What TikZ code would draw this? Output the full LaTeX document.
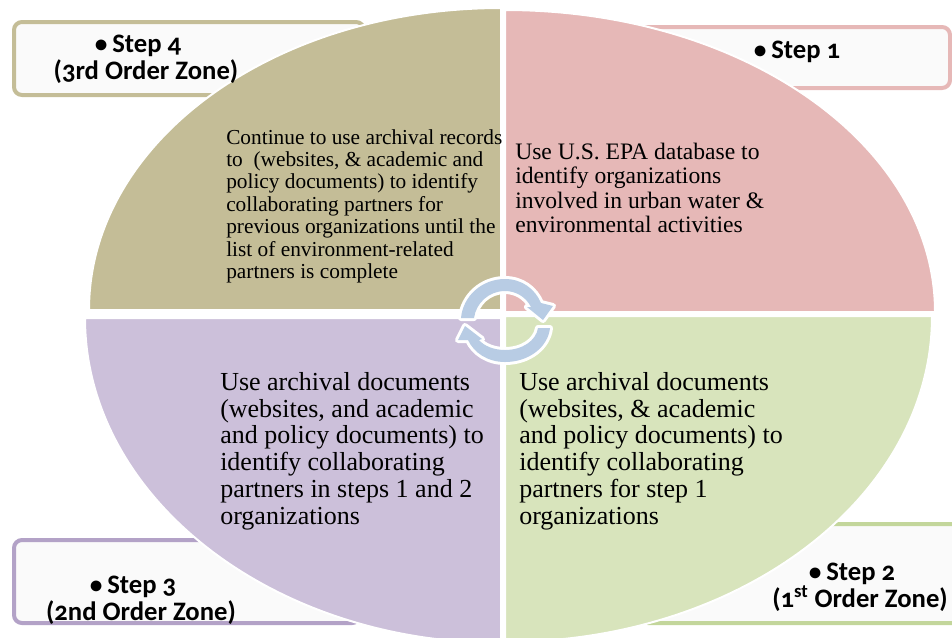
\documentclass[tikz,border=0pt]{standalone}
\usepackage{fontspec}
\setmainfont{Liberation Serif}
\newfontfamily\labelfont[Numbers=OldStyle]{Carlito}
\usepackage{tikz}

\definecolor{tanfill}{HTML}{C4BD97}
\definecolor{pinkfill}{HTML}{E6B8B7}
\definecolor{lilacfill}{HTML}{CCC0DA}
\definecolor{greenfill}{HTML}{D8E4BC}
\definecolor{purpleline}{HTML}{B3A2C7}
\definecolor{greenline}{HTML}{C3D69B}
\definecolor{cyclefill}{HTML}{B8CCE4}

\newcommand{\stepdot}{{\fontsize{19}{19}\selectfont\textbullet}\hspace{0.18em}}

\begin{document}
\begin{tikzpicture}[
    x=0.75pt, y=-0.75pt,
    stepbox/.style={draw, line width=3pt, rounded corners=6pt, fill=black!2},
    quadrant/.style={draw=white, line width=1.5pt},
    cyclearrow/.style={fill=cyclefill, preaction={draw=white, line width=4.5pt, line join=round}},
    steplabel/.style={font=\labelfont\bfseries\fontsize{20}{20.4}\selectfont, align=center, inner sep=0pt},
    bigtext/.style={font=\fontsize{19.5}{20.1}\selectfont, align=left, anchor=north west, inner sep=0pt},
    smalltext/.style={font=\fontsize{16}{16.8}\selectfont, align=left, anchor=north west, inner sep=0pt}
]
    \useasboundingbox (0,0) rectangle (952,637);
    \clip (0,0) rectangle (952,637);

    % Step boxes
    \draw[stepbox, draw=tanfill] (14,22) rectangle (364,95);
    \draw[stepbox, draw=pinkfill] (640,27) rectangle (950,88);
    \draw[stepbox, draw=purpleline] (14,540) rectangle (360,623);
    \draw[stepbox, draw=greenline] (640,524) rectangle (960,623);

    % Quadrants
    \fill[quadrant, fill=tanfill] (501,310) -- (501,8) .. controls (272,8) and (89,143) .. (89,310) -- cycle;
    \fill[quadrant, fill=pinkfill] (505,312) -- (505,10) .. controls (745,10) and (935,146) .. (935,312) -- cycle;
    \fill[quadrant, fill=lilacfill] (501,318) -- (501,643) .. controls (272,643) and (85,497) .. (85,318) -- cycle;
    \fill[quadrant, fill=greenfill] (505,316) -- (505,642) .. controls (742,642) and (932,496) .. (932,316) -- cycle;

    % Cycle arrows
    \path[cyclearrow] (461,318) .. controls (463,296) and (482,279) .. (505,279)
        .. controls (522,279) and (535,289) .. (541,303) -- (553,306) -- (543,320) -- (527,307) -- (531,307)
        .. controls (526,297) and (516,291) .. (505,291)
        .. controls (489,291) and (476,303) .. (474,318) -- cycle;
    \path[cyclearrow] (550,328) .. controls (548,347) and (529,362) .. (505,362)
        .. controls (488,362) and (474,353) .. (468,340) -- (458,340) -- (465,326) -- (482,339) -- (479,340)
        .. controls (484,346) and (494,350) .. (505,350)
        .. controls (522,350) and (536,341) .. (538,328) -- cycle;

    % Step labels
    \node[steplabel] (step4) at (146,59) {\stepdot Step 4\hspace*{12pt}\\(3rd Order Zone)};
    \node[steplabel] (step1) at (797,52) {\stepdot Step 1};
    \node[steplabel] (step3) at (141,600) {\stepdot Step 3\hspace*{12pt}\\(2nd Order Zone)};
    \node[steplabel] (step2) at (860,587) {\stepdot Step 2\hspace*{12pt}\\(1\textsuperscript{st} Order Zone)};

    % Quadrant texts
    \node[smalltext] (text4) at (226,129) {Continue to use archival records\\
        to\ \ (websites, \& academic and\\policy documents) to identify\\collaborating partners for\\
        previous organizations until the\\list of environment-related\\partners is complete};
    \node[smalltext, font=\fontsize{17.7}{18.2}\selectfont] (text1) at (515,143) {Use U.S. EPA database to\\identify organizations\\
        involved in urban water \&\\environmental activities};
    \node[bigtext] (text3) at (220,372) {Use archival documents\\(websites, and academic\\
        and policy documents) to\\identify collaborating\\partners in steps 1 and 2\\organizations};
    \node[bigtext] (text2) at (519,372) {Use archival documents\\(websites, \& academic\\
        and policy documents) to\\identify collaborating\\partners for step 1\\organizations};
\end{tikzpicture}
\end{document}
